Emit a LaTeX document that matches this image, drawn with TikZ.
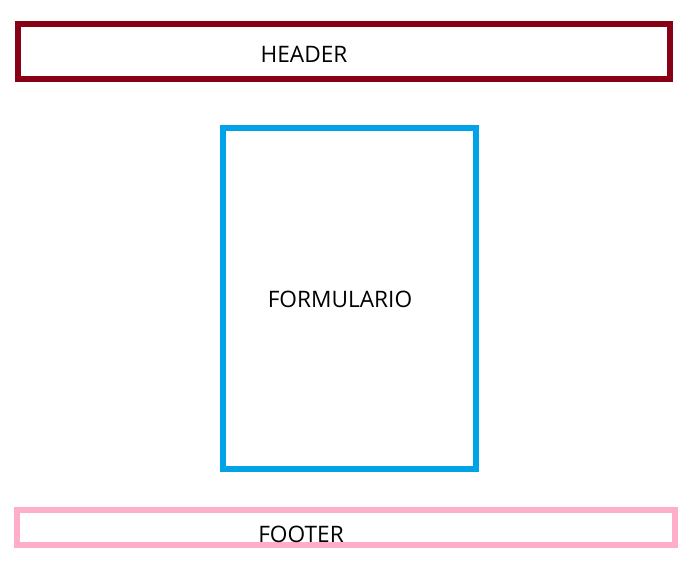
\documentclass[tikz,border=0pt]{standalone}
\usepackage{fontspec}
\setmainfont{Open Sans}
\usetikzlibrary{positioning}
\definecolor{hdred}{HTML}{880015}
\definecolor{fmblue}{HTML}{00A2E8}
\definecolor{ftpink}{HTML}{FFAEC9}
\tikzset{
  % Plain frame with a heavy coloured stroke.
  frame/.style = {rectangle, draw=#1, line width=4.3pt, inner sep=0pt},
  lbl/.style   = {font=\fontsize{17}{20}\selectfont, text=black, inner sep=0pt},
}

\begin{document}
\begin{tikzpicture}[x=0.75pt, y=-0.75pt]
\useasboundingbox (0,0) rectangle (696,564);
% header
\draw[frame=hdred] (18,24) rectangle (670,79);
\node[lbl] (header) at (304,54) {HEADER};
% form
\draw[frame=fmblue] (223,128) rectangle (476,469);
\node[lbl] (form) at (340,299.5) {FORMULARIO};
% footer
\draw[frame=ftpink, line width=3.8pt] (17,510) rectangle (675,545);
\node[lbl] (footer) at (301,534.5) {FOOTER};
\end{tikzpicture}
\end{document}
